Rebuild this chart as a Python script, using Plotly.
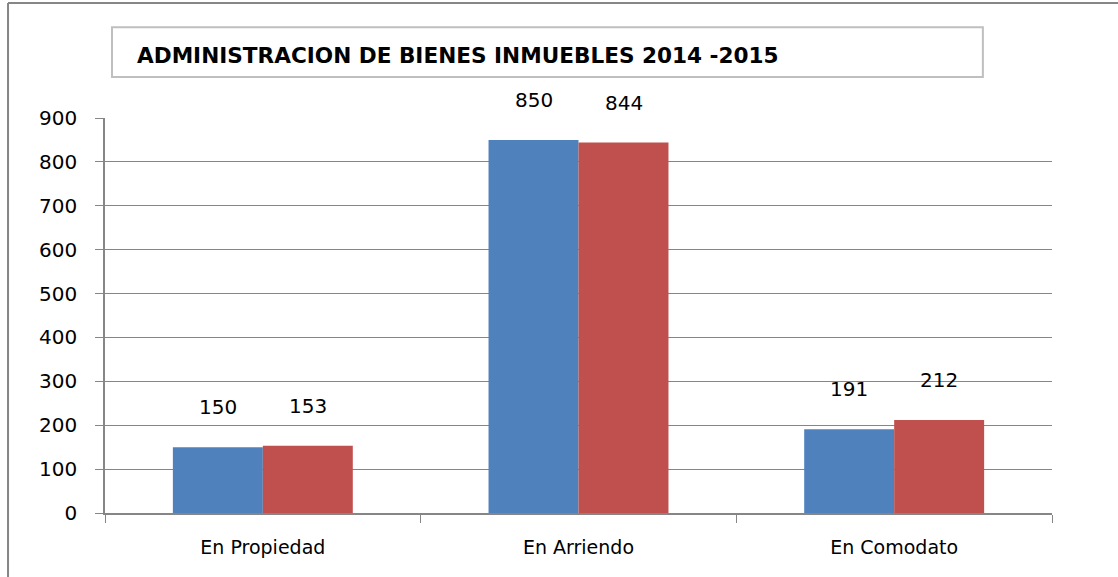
import plotly.graph_objects as go

categories = ["En Propiedad", "En Arriendo", "En Comodato"]
values_2014 = [150, 850, 191]
values_2015 = [153, 844, 212]
y_ticks = [0, 100, 200, 300, 400, 500, 600, 700, 800, 900]
title_text = "ADMINISTRACION DE BIENES INMUEBLES 2014 -2015"

FONT = "'DejaVu Sans', 'Open Sans', sans-serif"
BLUE = "#4F81BD"
RED = "#C0504D"

fig = go.Figure()
fig.add_trace(go.Bar(x=categories, y=values_2014, name="2014", marker=dict(color=BLUE, line=dict(width=0))))
fig.add_trace(go.Bar(x=categories, y=values_2015, name="2015", marker=dict(color=RED, line=dict(width=0))))

annotations = []
for i, c in enumerate(categories):
    annotations.append(dict(x=c, y=values_2014[i], xref="x", yref="y", text=str(values_2014[i]),
                            showarrow=False, xshift=-45, yshift=40,
                            font=dict(family=FONT, size=20, color="#000")))
    annotations.append(dict(x=c, y=values_2015[i], xref="x", yref="y", text=str(values_2015[i]),
                            showarrow=False, xshift=45, yshift=40,
                            font=dict(family=FONT, size=20, color="#000")))

annotations.append(dict(x=0.0317, y=1.157, xref="paper", yref="paper", text="<b>" + title_text + "</b>",
                        showarrow=False, xanchor="left", yanchor="middle",
                        font=dict(family=FONT, size=21.6, color="#000")))

shapes = [
    dict(type="rect", xref="paper", yref="paper", x0=0.0074, x1=0.927, y0=1.104, y1=1.23,
         line=dict(color="#BFBFBF", width=2), fillcolor="rgba(0,0,0,0)"),
    dict(type="line", xref="paper", yref="paper", x0=-0.1024, x1=-0.1024, y0=-0.2, y1=1.291,
         line=dict(color="#868686", width=2)),
    dict(type="line", xref="paper", yref="paper", x0=-0.1024, x1=1.1, y0=1.291, y1=1.291,
         line=dict(color="#868686", width=2)),
]

fig.update_layout(
    width=1118, height=577,
    margin=dict(l=105, r=66, t=118, b=64),
    paper_bgcolor="white", plot_bgcolor="white",
    barmode="group", bargap=0.43, bargroupgap=0,
    showlegend=False,
    font=dict(family=FONT, color="#000"),
    annotations=annotations, shapes=shapes,
    xaxis=dict(showline=True, linecolor="#868686", linewidth=1.5, ticks="outside", tickson="boundaries",
               ticklen=8, tickcolor="#868686", tickfont=dict(family=FONT, size=19, color="#000"),
               showgrid=False, ticklabelstandoff=16),
    yaxis=dict(range=[0, 900], tickvals=y_ticks, showline=True, linecolor="#868686", linewidth=1.5,
               ticks="outside", ticklen=8, tickcolor="#868686", showgrid=True, gridcolor="#868686",
               gridwidth=1, zeroline=False, tickfont=dict(family=FONT, size=20, color="#000"),
               ticklabelstandoff=14),
)

fig.write_html("out.html", config={"displayModeBar": False},
               post_script="document.body.style.margin='0px';")
